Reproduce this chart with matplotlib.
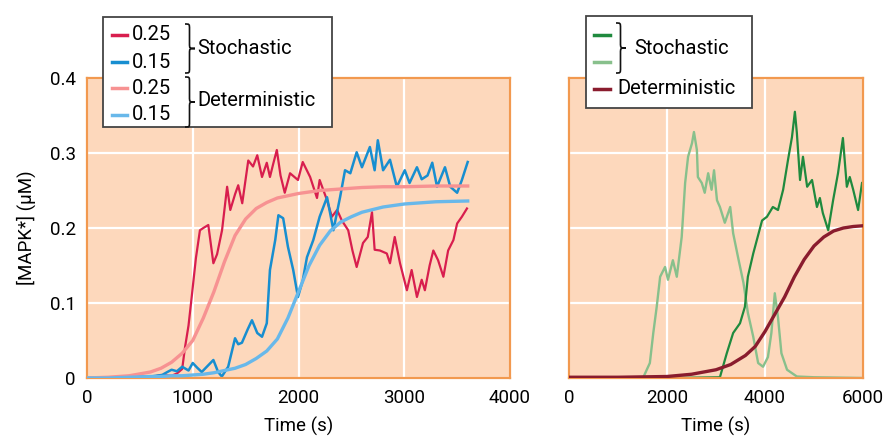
import matplotlib
matplotlib.use("Agg")
import matplotlib.pyplot as plt
from matplotlib.path import Path
from matplotlib.patches import PathPatch, Rectangle
from matplotlib.lines import Line2D

plt.rcParams['font.family'] = ['Roboto', 'DejaVu Sans']

# ---------------- data (left panel) ----------------
red_sto_t = [0, 300, 500, 600, 700, 800, 850, 900, 927, 960, 990, 1030, 1068, 1100, 1147, 1195,
             1230, 1277, 1325, 1355, 1400, 1430, 1468, 1525, 1570, 1610, 1655, 1700, 1730, 1760, 1795,
             1830, 1870, 1920, 1995, 2040, 2110, 2175, 2200, 2270, 2315, 2365, 2410, 2470, 2510,
             2550, 2610, 2655, 2695, 2720, 2770, 2835, 2865, 2910, 2960, 3025, 3070, 3120, 3165,
             3195, 3240, 3275, 3320, 3370, 3415, 3465, 3500, 3545, 3593]
red_sto_v = [0.0, 0.0, 0.002, 0.001, 0.004, 0.003, 0.006, 0.012, 0.041, 0.07, 0.108, 0.16, 0.197,
             0.2, 0.204, 0.153, 0.165, 0.197, 0.255, 0.224, 0.245, 0.257, 0.233, 0.29, 0.282, 0.297,
             0.268, 0.287, 0.268, 0.285, 0.304, 0.27, 0.247, 0.273, 0.264, 0.288, 0.268, 0.24,
             0.264, 0.237, 0.215, 0.224, 0.21, 0.197, 0.17, 0.148, 0.18, 0.188, 0.221, 0.171, 0.17,
             0.166, 0.153, 0.188, 0.153, 0.117, 0.144, 0.108, 0.131, 0.117, 0.15, 0.17, 0.157,
             0.135, 0.17, 0.184, 0.206, 0.215, 0.226]

blue_sto_t = [0, 400, 600, 710, 760, 800, 850, 900, 960, 1000, 1040, 1085, 1140, 1195, 1240, 1275,
              1335, 1400, 1430, 1465, 1520, 1560, 1610, 1655, 1700, 1730, 1780, 1810, 1855, 1900,
              1950, 1995, 2040, 2080, 2140, 2200, 2270, 2330, 2393, 2440, 2490, 2550, 2600, 2675,
              2720, 2750, 2800, 2865, 2930, 3005, 3050, 3120, 3165, 3220, 3265, 3310, 3385, 3435,
              3500, 3545, 3600]
blue_sto_v = [0.0, 0.0, 0.002, 0.004, 0.008, 0.011, 0.009, 0.015, 0.01, 0.02, 0.014, 0.008, 0.016,
              0.024, 0.008, 0.002, 0.015, 0.053, 0.045, 0.047, 0.065, 0.077, 0.06, 0.055, 0.073,
              0.144, 0.184, 0.217, 0.213, 0.175, 0.144, 0.108, 0.13, 0.161, 0.184, 0.215, 0.241,
              0.197, 0.241, 0.277, 0.273, 0.301, 0.281, 0.308, 0.277, 0.317, 0.277, 0.291, 0.255,
              0.277, 0.26, 0.281, 0.265, 0.27, 0.287, 0.255, 0.281, 0.255, 0.247, 0.264, 0.288]

det_t = [0, 200, 400, 600, 700, 800, 900, 1000, 1100, 1200, 1300, 1400, 1500, 1600, 1700, 1800,
         1900, 2000, 2100, 2200, 2300, 2400, 2500, 2600, 2800, 3000, 3300, 3600]
pink_det_v = [0.0, 0.001, 0.003, 0.008, 0.013, 0.021, 0.033, 0.05, 0.08, 0.115, 0.155, 0.19,
              0.212, 0.226, 0.234, 0.24, 0.243, 0.246, 0.248, 0.25, 0.251, 0.252, 0.253, 0.254,
              0.255, 0.255, 0.256, 0.256]
lblue_det_v = [0.0, 0.0, 0.001, 0.002, 0.002, 0.003, 0.003, 0.004, 0.005, 0.007, 0.01, 0.013,
               0.018, 0.026, 0.036, 0.052, 0.08, 0.115, 0.15, 0.177, 0.196, 0.208, 0.215, 0.221,
               0.228, 0.232, 0.235, 0.236]

# ---------------- data (right panel) ----------------
lg_t = [0, 1000, 1510, 1650, 1720, 1790, 1860, 1960, 2020, 2120, 2200, 2300, 2370, 2430, 2510,
        2550, 2610, 2630, 2710, 2770, 2840, 2910, 2960, 3020, 3080, 3180, 3290, 3350, 3450, 3560,
        3650, 3760, 3860, 3960, 4060, 4130, 4200, 4265, 4335, 4450, 4650, 5000, 6000]
lg_v = [0.0, 0.0, 0.0, 0.02, 0.06, 0.095, 0.135, 0.148, 0.131, 0.157, 0.135, 0.188, 0.26, 0.295,
        0.313, 0.328, 0.304, 0.268, 0.26, 0.247, 0.273, 0.251, 0.277, 0.237, 0.228, 0.207, 0.228,
        0.193, 0.161, 0.127, 0.087, 0.055, 0.02, 0.015, 0.028, 0.06, 0.113, 0.081, 0.033, 0.011,
        0.002, 0.001, 0.0]

dg_t = [0, 2000, 3080, 3220, 3350, 3490, 3590, 3650, 3760, 3940, 4040, 4160, 4265, 4370, 4470,
        4550, 4610, 4650, 4715, 4775, 4860, 4960, 5060, 5120, 5180, 5290, 5390, 5490, 5590, 5670,
        5730, 5800, 5900, 5980]
dg_v = [0.0, 0.0, 0.001, 0.033, 0.06, 0.073, 0.095, 0.135, 0.166, 0.21, 0.215, 0.228, 0.224,
        0.251, 0.291, 0.321, 0.355, 0.327, 0.264, 0.295, 0.255, 0.264, 0.228, 0.24, 0.22, 0.197,
        0.237, 0.273, 0.32, 0.255, 0.268, 0.251, 0.224, 0.26]

dr_t = [0, 1000, 2000, 2500, 3000, 3300, 3600, 3800, 4000, 4200, 4400, 4600, 4800, 5000, 5200,
        5400, 5600, 5800, 6000]
dr_v = [0.001, 0.001, 0.002, 0.005, 0.011, 0.018, 0.03, 0.042, 0.062, 0.085, 0.108, 0.135, 0.158,
        0.176, 0.188, 0.196, 0.2, 0.202, 0.203]

left_xticks = [0, 1000, 2000, 3000, 4000]
right_xticks = [0, 2000, 4000, 6000]
yticks = [0, 0.1, 0.2, 0.3, 0.4]
ytick_labels = ['0', '0.1', '0.2', '0.3', '0.4']

# ---------------- styles ----------------
BG = '#FDD8BC'
SPINE = '#F2994F'
C_RED = '#D81E4E'
C_BLUE = '#178ED0'
C_PINK = '#F79292'
C_LBLUE = '#68B8EA'
C_DG = '#1F8A3E'
C_LG = '#88C08C'
C_DR = '#8A1C2E'
FS = 13.5
LFS = 14.5

W, H = 896, 441
fig = plt.figure(figsize=(W / 100, H / 100), dpi=100)


def fx(x):
    return x / W


def fy(y):
    return 1 - y / H


axL = fig.add_axes([fx(87), fy(378), fx(510) - fx(87), fy(78) - fy(378)])
axR = fig.add_axes([fx(569), fy(378), fx(863) - fx(569), fy(78) - fy(378)])

for ax, xmax, xt in [(axL, 4000, left_xticks), (axR, 6000, right_xticks)]:
    ax.set_facecolor(BG)
    ax.set_xlim(0, xmax)
    ax.set_ylim(0, 0.4)
    ax.set_xticks(xt)
    ax.set_xticklabels([str(v) for v in xt])
    ax.set_yticks(yticks)
    ax.grid(True, color='white', lw=1.6)
    ax.set_axisbelow(True)
    for s in ax.spines.values():
        s.set_color(SPINE)
        s.set_linewidth(1.6)
    ax.tick_params(length=0, labelsize=FS, pad=8)
    ax.set_xlabel('Time (s)', fontsize=FS, labelpad=7)

axL.set_yticklabels(ytick_labels)
axR.set_yticklabels([])
axL.set_ylabel('[MAPK*] (\u03bcM)', fontsize=FS, labelpad=10)

axL.plot(det_t, pink_det_v, color=C_PINK, lw=2.4, zorder=3)
axL.plot(det_t, lblue_det_v, color=C_LBLUE, lw=2.4, zorder=3)
axL.plot(red_sto_t, red_sto_v, color=C_RED, lw=1.6, zorder=2)
axL.plot(blue_sto_t, blue_sto_v, color=C_BLUE, lw=1.8, zorder=2)

axR.plot(lg_t, lg_v, color=C_LG, lw=1.7, zorder=2)
axR.plot(dg_t, dg_v, color=C_DG, lw=1.6, zorder=2)
axR.plot(dr_t, dr_v, color=C_DR, lw=2.4, zorder=3)


# ---------------- custom legends ----------------
def box(x0, y0, x1, y1):
    r = Rectangle((fx(x0), fy(y1)), fx(x1) - fx(x0), fy(y0) - fy(y1), transform=fig.transFigure,
                  facecolor='white', edgecolor='#444444', lw=1.3, zorder=10)
    fig.add_artist(r)


def sample(x0, x1, y, color):
    fig.add_artist(Line2D([fx(x0), fx(x1)], [fy(y), fy(y)], transform=fig.transFigure,
                          color=color, lw=2.5, zorder=11))


def label(x, y, s):
    fig.text(fx(x), fy(y), s, fontsize=LFS, ha='left', va='center', zorder=12)


def brace(x0, ytop, ybot, w=10, r=5):
    x1 = x0 + w * 0.45
    x2 = x0 + w
    ym = (ytop + ybot) / 2
    pts = [(x0, ytop), (x1, ytop), (x1, ytop), (x1, ytop + r),
           (x1, ym - r),
           (x1, ym), (x1, ym), (x2, ym),
           (x1, ym), (x1, ym), (x1, ym + r),
           (x1, ybot - r),
           (x1, ybot), (x1, ybot), (x0, ybot)]
    codes = [Path.MOVETO, Path.CURVE4, Path.CURVE4, Path.CURVE4,
             Path.LINETO,
             Path.CURVE4, Path.CURVE4, Path.CURVE4,
             Path.CURVE4, Path.CURVE4, Path.CURVE4,
             Path.LINETO,
             Path.CURVE4, Path.CURVE4, Path.CURVE4]
    p = Path([(fx(a), fy(b)) for a, b in pts], codes)
    fig.add_artist(PathPatch(p, transform=fig.transFigure, fill=False, edgecolor='#111111',
                             lw=1.2, zorder=12))


# left legend
box(103, 17, 332, 127)
rows = [35, 62, 88, 115]
for y, c in zip(rows, [C_RED, C_BLUE, C_PINK, C_LBLUE]):
    sample(112, 127, y, c)
for y, s in zip(rows, ['0.25', '0.15', '0.25', '0.15']):
    label(132, y, s)
brace(185, 24, 73)
brace(185, 77, 127)
label(197, 48, 'Stochastic')
label(197, 101, 'Deterministic')

# right legend
box(586, 16, 752, 108)
for y, c in zip([35, 62, 89], [C_DG, C_LG, C_DR]):
    sample(594, 610, y, c)
brace(616, 23, 73)
label(634, 48, 'Stochastic')
label(617, 89, 'Deterministic')

fig.savefig('out.png', dpi=100)
